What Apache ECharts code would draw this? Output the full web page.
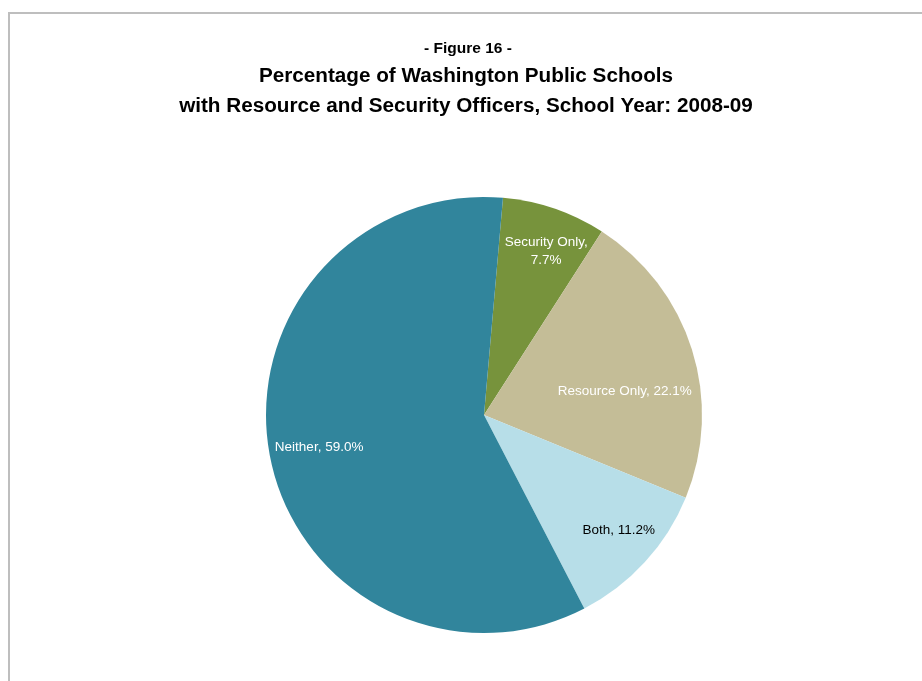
<!DOCTYPE html>
<html>
<head>
<meta charset="utf-8">
<title>Figure 16</title>
<script src="https://cdn.jsdelivr.net/npm/echarts@6/dist/echarts.min.js"></script>
<style>
  html, body { margin: 0; padding: 0; background: #ffffff; }
  #chart { width: 922px; height: 681px; }
</style>
</head>
<body>
<div id="chart"></div>
<script>
// Share of schools by officer type, 2008-09 (percent)
const categories = ['Security Only', 'Resource Only', 'Both', 'Neither'];
const percents = [7.7, 22.1, 11.2, 59.0];

const sliceColors = ['#77933C', '#C4BD97', '#B7DEE8', '#31859C'];
const labelColors = ['#ffffff', '#ffffff', '#000000', '#ffffff'];
// nudges applied to each slice label from its default inside spot
const labelNudge = [[26, -58], [34, 10], [52, 40], [-55, 11]];

const FONT = '"Liberation Sans", Arial, sans-serif';

const chart = echarts.init(document.getElementById('chart'), null, { renderer: 'canvas' });

chart.setOption({
  animation: false,
  backgroundColor: '#ffffff',
  graphic: [{
    type: 'rect',
    silent: true,
    shape: { x: 9, y: 13, width: 1000, height: 1000 },
    style: { fill: 'none', stroke: '#BEBEBE', lineWidth: 2 }
  }],
  title: [
    {
      text: '- Figure 16 -',
      left: 463, top: 36, textAlign: 'center',
      textStyle: { fontFamily: FONT, fontWeight: 'bold', fontSize: 15.5, color: '#000' }
    },
    {
      text: 'Percentage of Washington Public Schools\nwith Resource and Security Officers, School Year: 2008-09',
      left: 461, top: 56, textAlign: 'center',
      textStyle: { fontFamily: FONT, fontWeight: 'bold', fontSize: 20.7, lineHeight: 30, color: '#000' }
    }
  ],
  series: [{
    type: 'pie',
    center: [484, 415],
    radius: [0, 218],
    startAngle: 85,
    clockwise: true,
    avoidLabelOverlap: false,
    label: {
      show: true,
      position: 'inside',
      fontFamily: FONT,
      fontSize: 13.5,
      lineHeight: 18,
      formatter: function (p) {
        const txt = p.name + ', ' + p.value.toFixed(1) + '%';
        return p.dataIndex === 0 ? p.name + ',\n' + p.value.toFixed(1) + '%' : txt;
      }
    },
    labelLine: { show: false },
    labelLayout: function (params) {
      const n = labelNudge[params.dataIndex];
      return { dx: n[0], dy: n[1] };
    },
    emphasis: { disabled: true },
    itemStyle: { borderWidth: 0 },
    data: categories.map(function (name, i) {
      return {
        name: name,
        value: percents[i],
        itemStyle: { color: sliceColors[i] },
        label: { color: labelColors[i] }
      };
    })
  }]
});
</script>
</body>
</html>
